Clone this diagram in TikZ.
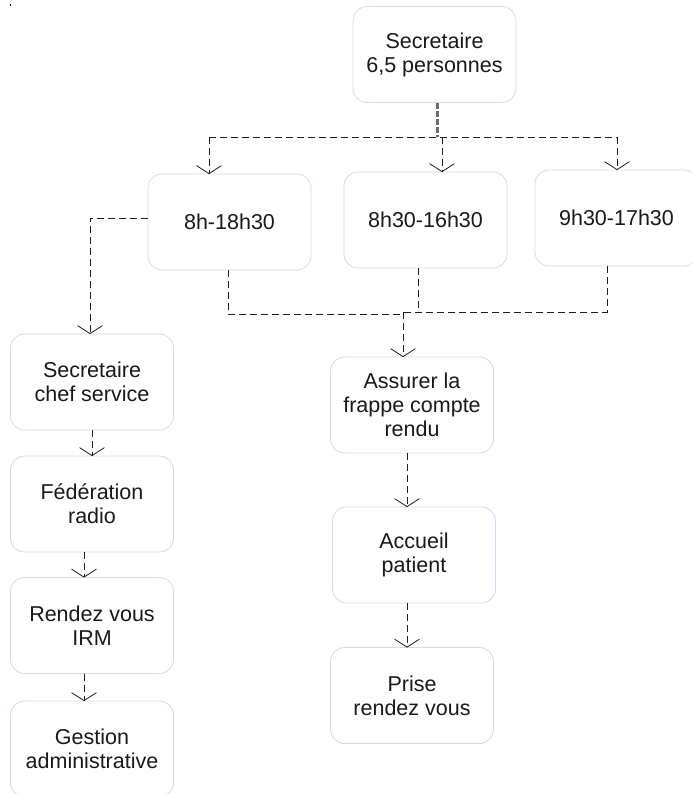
\documentclass[tikz,border=0pt]{standalone}
\usepackage{fontspec}
\setmainfont{Liberation Sans}
\definecolor{boxc}{RGB}{210,218,242}
\definecolor{linec}{RGB}{30,30,30}
\definecolor{stemc}{RGB}{110,110,110}
\tikzset{
  box/.style={draw=boxc, line width=0.8pt, rounded corners=14pt, minimum width=163pt, minimum height=96pt, inner sep=0pt, align=center, font=\fontsize{21.5}{24}\selectfont, text=black!90},
  dline/.style={draw=linec, line width=0.9pt, dash pattern=on 7pt off 4pt},
  tipl/.style={draw=linec, line width=0.8pt, solid},
  stem/.style={draw=stemc, line width=3pt, dash pattern=on 6pt off 2pt}
}
\newcommand\vtip[1]{\draw[tipl] (#1) ++(-12.5,-8) -- (#1) -- ++(12.5,-8);}
\begin{document}
\begin{tikzpicture}[x=1pt,y=-1pt]
\useasboundingbox (0,0) rectangle (691,794);
\fill[black] (9.5,4.5) rectangle (11,6);
% nodes
\node[box] (top) at (434.5,54.5) {Secretaire\\6,5 personnes};
\node[box] (n1) at (229.5,222) {8h-18h30};
\node[box] (n2) at (425.5,220) {8h30-16h30};
\node[box] (n3) at (616.5,218) {9h30-17h30};
\node[box] (scs) at (92,382) {Secretaire\\chef service};
\node[box] (fed) at (92,504) {Fédération\\radio};
\node[box] (rdv) at (92,625.5) {Rendez vous\\IRM};
\node[box] (gest) at (92,749) {Gestion\\administrative};
\node[box] (ass) at (412,405) {Assurer la\\frappe compte\\rendu};
\node[box] (acc) at (414,555) {Accueil\\patient};
\node[box] (prise) at (412,695.5) {Prise\\rendez vous};
% junction coordinates
\coordinate (j0) at (437,137);
\coordinate (jl) at (209,137);
\coordinate (jm) at (442,137);
\coordinate (jr) at (617,137);
\coordinate (b1) at (228,314);
\coordinate (bm) at (403,314);
\coordinate (bm2) at (403,312);
\coordinate (b2) at (418,312);
\coordinate (b3) at (607,312);
\coordinate (lw) at (90,218);
\coordinate (t1) at (jl |- n1.north);
\coordinate (t2) at (jm |- n2.north);
\coordinate (t3) at (jr |- n3.north);
\coordinate (t4) at (lw |- scs.north);
\coordinate (t5) at (92,0 |- fed.north);
\coordinate (t6) at (84,0 |- rdv.north);
\coordinate (t7) at (84,0 |- gest.north);
\coordinate (t8) at (bm2 |- ass.north);
\coordinate (t9) at (407,0 |- acc.north);
\coordinate (t10) at (407,0 |- prise.north);
% top distribution
\draw[stem] (top.south -| j0) -- (j0);
\draw[dline] (jl) -- (jr);
\draw[dline] (jl) -- (t1); \vtip{t1}
\draw[dline] (jm) -- (t2); \vtip{t2}
\draw[dline] (jr) -- (t3); \vtip{t3}
% left branch
\draw[dline] (n1.west |- lw) -- (lw) -- (t4); \vtip{t4}
\draw[dline] (scs.south -| t5) -- (t5); \vtip{t5}
\draw[dline] (fed.south -| t6) -- (t6); \vtip{t6}
\draw[dline] (rdv.south -| t7) -- (t7); \vtip{t7}
% merge to right column
\draw[dline] (n1.south -| b1) -- (b1) -- (bm);
\draw[dline] (n2.south -| b2) -- (b2);
\draw[dline] (n3.south -| b3) -- (b3) -- (bm2);
\draw[dline] (bm2) -- (t8); \vtip{t8}
\draw[dline] (ass.south -| t9) -- (t9); \vtip{t9}
\draw[dline] (acc.south -| t10) -- (t10); \vtip{t10}
\end{tikzpicture}
\end{document}
